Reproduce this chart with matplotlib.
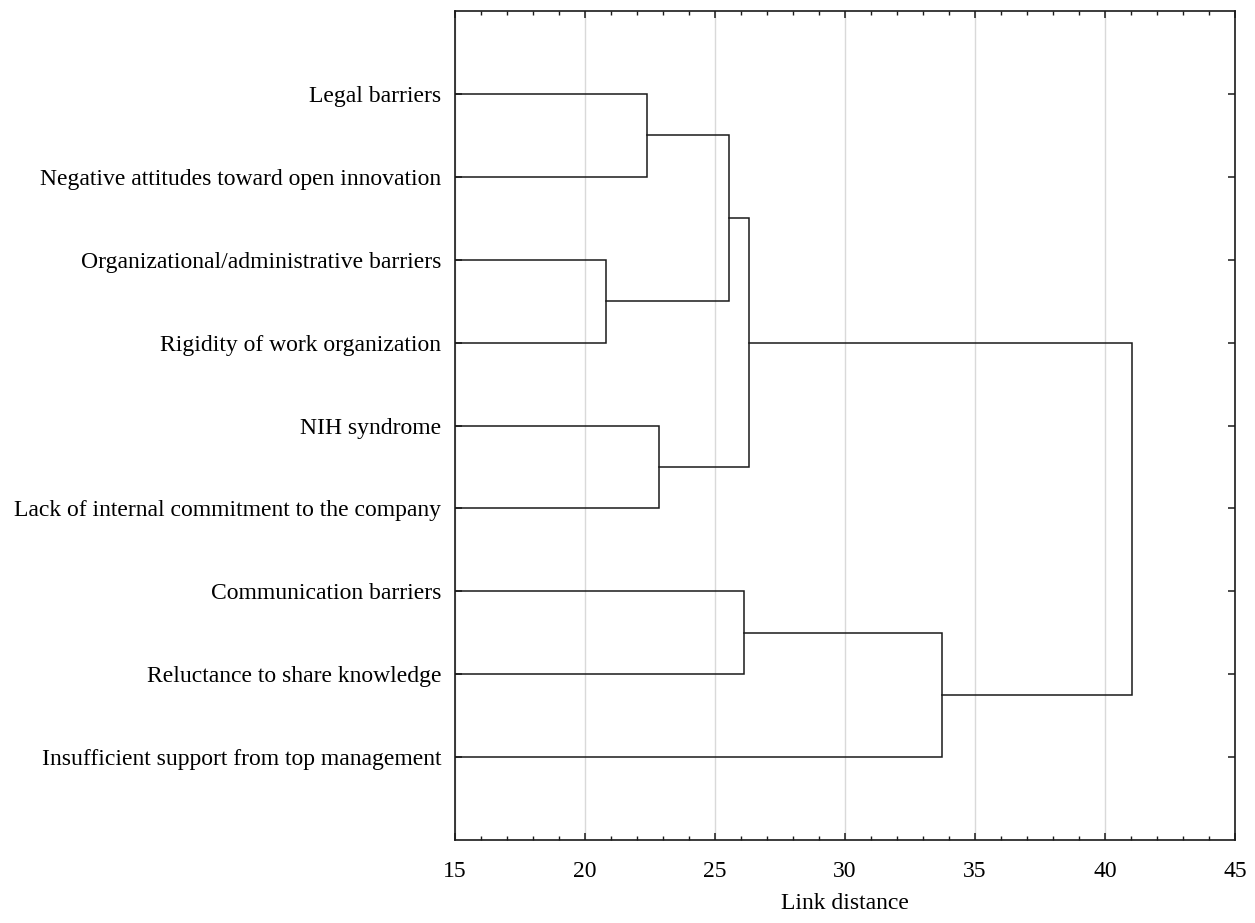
import matplotlib
matplotlib.use("Agg")
import matplotlib.pyplot as plt

# leaves, top to bottom
labels = [
    "Legal barriers",
    "Negative attitudes toward open innovation",
    "Organizational/administrative barriers",
    "Rigidity of work organization",
    "NIH syndrome",
    "Lack of internal commitment to the company",
    "Communication barriers",
    "Reluctance to share knowledge",
    "Insufficient support from top management",
]

# merges: (left node, right node, link distance); nodes 0..8 are leaves,
# node 9 is the first merge, 10 the second, and so on
merge_a = [0, 2, 4, 9, 6, 12, 13, 14]
merge_b = [1, 3, 5, 10, 7, 11, 8, 15]
merge_dist = [22.4, 20.8, 22.85, 25.55, 26.1, 26.3, 33.75, 41.05]

x_ticks = [15, 20, 25, 30, 35, 40, 45]

plt.rcParams['font.family'] = ['Liberation Serif', 'DejaVu Serif']

fig = plt.figure(figsize=(12.55, 9.23), dpi=100)
ax = fig.add_axes([0.3625, 0.0899, 0.6215, 0.898])

n = len(labels)
ypos = {i: i + 1 for i in range(n)}
xpos = {i: 15 for i in range(n)}

lc = '#1a1a1a'
for k, (a, b, d) in enumerate(zip(merge_a, merge_b, merge_dist)):
    ya, yb = ypos[a], ypos[b]
    ax.plot([xpos[a], d, d, xpos[b]], [ya, ya, yb, yb], color=lc, lw=1.1,
            solid_joinstyle='miter', zorder=3)
    node = n + k
    ypos[node] = (ya + yb) / 2
    xpos[node] = d

ax.set_xlim(15, 45)
ax.set_ylim(n + 1, 0)
ax.set_xticks(x_ticks)
ax.set_xticks(range(15, 46), minor=True)
ax.set_yticks(range(1, n + 1))
ax.set_yticklabels(labels)
ax.grid(axis='x', which='major', color='#d9d9d9', lw=1.0, zorder=0)

ax.tick_params(which='both', direction='in', top=True, right=True,
               labelsize=17, color=lc)
ax.tick_params(which='major', length=5, width=1.1)
ax.tick_params(which='minor', length=3, width=1.0)
ax.tick_params(axis='x', pad=15)
ax.tick_params(axis='y', pad=10)
for s in ax.spines.values():
    s.set_linewidth(1.2)
    s.set_color(lc)

ax.set_xlabel("Link distance", fontsize=17, labelpad=8)

fig.savefig("out.png", dpi=100)
